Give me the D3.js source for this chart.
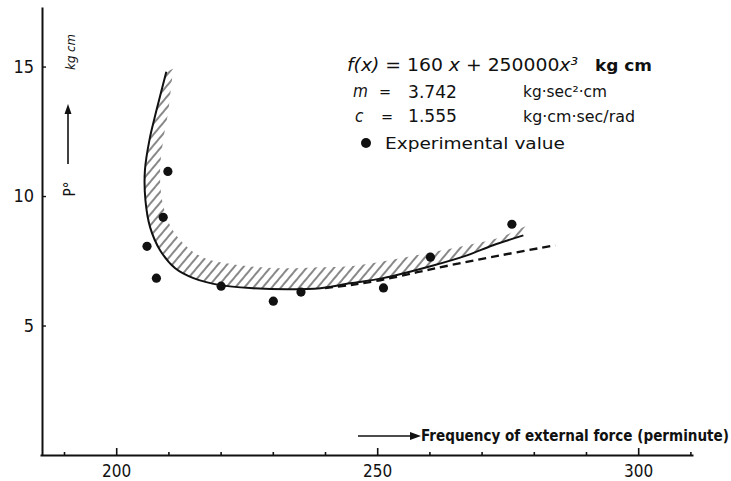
<!DOCTYPE html>
<html>
<head>
<meta charset="utf-8">
<script src="https://cdn.jsdelivr.net/npm/d3@7"></script>
<style>
  html, body { margin: 0; padding: 0; background: #fff; }
  svg { display: block; }
  text { fill: #111; }
</style>
</head>
<body>
<svg id="chart" width="731" height="481"></svg>
<script>
// ---- data ----
const xMajorTicks = [200, 250, 300];
const xMinorTicks = [190, 210, 220, 230, 240, 260, 270, 280, 290, 310];
const yTicks = [5, 10, 15];

// theoretical curve (solid)
const solidX = [209.6, 207.7, 206.4, 205.5, 205.6, 206.5, 208.4, 211.3, 214.8, 219.9, 226.2, 232.8, 239.1, 244.8, 251.1, 260.2, 267.2, 272.2, 278.0];
const solidY = [14.8, 13.3, 12.2, 10.99, 9.83, 8.79, 7.91, 7.21, 6.83, 6.56, 6.44, 6.40, 6.44, 6.63, 6.83, 7.29, 7.71, 8.10, 8.48];

// upper edge of hatched band
const hatchX = [210.9, 210.0, 209.0, 208.4, 208.8, 210.3, 213.2, 217.0, 223.8, 231.4, 239.1, 244.8, 254.4, 267.2, 273.6, 278.4];
const hatchY = [14.92, 13.3, 12.15, 10.99, 9.83, 8.87, 8.10, 7.60, 7.33, 7.21, 7.25, 7.29, 7.60, 8.10, 8.41, 8.83];

// dashed curve
const dashX = [240.0, 244.8, 250.6, 257.7, 264.0, 273.6, 284.1];
const dashY = [6.45, 6.56, 6.75, 7.06, 7.33, 7.71, 8.10];

// experimental values
const expX = [205.9, 207.7, 209.0, 209.9, 220.1, 230.1, 235.4, 251.2, 260.2, 275.8];
const expY = [8.06, 6.83, 9.18, 10.95, 6.52, 5.94, 6.29, 6.45, 7.64, 8.91];

const FONT = "'DejaVu Sans Condensed', 'Liberation Sans Narrow', 'DejaVu Sans', sans-serif";

const svg = d3.select("#chart");

const x = d3.scaleLinear().domain([185.4, 310.5]).range([40, 693]);
const y = d3.scaleLinear().domain([0, 17.3]).range([455, 7]);

const pts = (xs, ys) => xs.map((v, i) => [x(v), y(ys[i])]);

// hatch pattern
const defs = svg.append("defs");
const pat = defs.append("pattern")
  .attr("id", "hatch")
  .attr("patternUnits", "userSpaceOnUse")
  .attr("width", 7).attr("height", 7)
  .attr("patternTransform", "rotate(40)");
pat.append("line")
  .attr("x1", 1).attr("y1", 0).attr("x2", 1).attr("y2", 7)
  .attr("stroke", "#111").attr("stroke-width", 1.0);

// hatched band
const smooth = d3.line().curve(d3.curveCatmullRom.alpha(0.5));
const lowerPath = smooth(pts(solidX, solidY));
const upperPts = pts(hatchX, hatchY).reverse();
const upperPath = smooth(upperPts).replace(/^M/, "L");
svg.append("path")
  .attr("d", lowerPath + upperPath + "Z")
  .attr("fill", "url(#hatch)")
  .attr("stroke", "none");

// solid curve
svg.append("path")
  .attr("d", lowerPath)
  .attr("fill", "none")
  .attr("stroke", "#111")
  .attr("stroke-width", 2);

// dashed curve
svg.append("path")
  .attr("d", smooth(pts(dashX, dashY)))
  .attr("fill", "none")
  .attr("stroke", "#111")
  .attr("stroke-width", 2.4)
  .attr("stroke-dasharray", "8,5");

// experimental points
svg.append("g").selectAll("circle")
  .data(expX.map((v, i) => [v, expY[i]]))
  .join("circle")
  .attr("cx", d => x(d[0]))
  .attr("cy", d => y(d[1]))
  .attr("r", 4.6)
  .attr("fill", "#111");

// x axis
const xAxisG = svg.append("g").attr("transform", `translate(0,${y(0)})`);
xAxisG.call(d3.axisBottom(x).tickValues(xMajorTicks).tickSizeInner(-7).tickSizeOuter(0).tickPadding(10).tickFormat(d3.format("d")));
const xMinorG = svg.append("g").attr("transform", `translate(0,${y(0)})`);
xMinorG.call(d3.axisBottom(x).tickValues(xMinorTicks).tickSizeInner(-3).tickSizeOuter(0).tickFormat(""));
xMinorG.select(".domain").remove();
[xAxisG, xMinorG].forEach(g => {
  g.selectAll(".domain").attr("stroke", "#111").attr("stroke-width", 2.2);
  g.selectAll(".tick line").attr("stroke", "#111").attr("stroke-width", 1.6);
});
xAxisG.selectAll(".tick text")
  .attr("font-family", FONT).attr("font-size", 17).attr("fill", "#111");

// y axis
const yAxisG = svg.append("g").attr("transform", `translate(${x(185.4) + 2},0)`);
yAxisG.call(d3.axisLeft(y).tickValues(yTicks).tickSizeInner(-4).tickSizeOuter(0).tickPadding(8).tickFormat(d3.format("d")));
yAxisG.selectAll(".domain").attr("stroke", "#111").attr("stroke-width", 2);
yAxisG.selectAll(".tick line").attr("stroke", "#111").attr("stroke-width", 1.4);
yAxisG.selectAll(".tick text")
  .attr("font-family", FONT).attr("font-size", 18).attr("fill", "#111");

// y axis label: "kg cm", arrow, "P°"
svg.append("text")
  .attr("transform", "translate(75,52) rotate(-90)")
  .attr("text-anchor", "middle")
  .attr("font-family", FONT).attr("font-style", "italic").attr("font-size", 13)
  .text("kg cm");
svg.append("line")
  .attr("x1", 68).attr("y1", 164).attr("x2", 68).attr("y2", 112)
  .attr("stroke", "#111").attr("stroke-width", 1.6);
svg.append("path")
  .attr("d", "M68,104 L64.5,114 L71.5,114 Z")
  .attr("fill", "#111");
svg.append("text")
  .attr("transform", "translate(75,189) rotate(-90)")
  .attr("text-anchor", "middle")
  .attr("font-family", FONT).attr("font-size", 15)
  .text("P°");

// x axis label with arrow
svg.append("line")
  .attr("x1", 358).attr("y1", 436).attr("x2", 412).attr("y2", 436)
  .attr("stroke", "#111").attr("stroke-width", 1.6);
svg.append("path")
  .attr("d", "M421,436 L410,432 L410,440 Z")
  .attr("fill", "#111");
svg.append("text")
  .attr("x", 421).attr("y", 441)
  .attr("font-family", FONT).attr("font-weight", "bold").attr("font-size", 15)
  .attr("textLength", 308).attr("lengthAdjust", "spacingAndGlyphs")
  .text("Frequency of external force (perminute)");

// legend / annotation block
const leg = svg.append("g").attr("font-family", FONT);
const t1 = leg.append("text").attr("x", 347).attr("y", 71).attr("font-size", 18)
  .attr("textLength", 231).attr("lengthAdjust", "spacingAndGlyphs");
t1.append("tspan").attr("font-style", "italic").text("f(x)");
t1.append("tspan").text(" = 160 ");
t1.append("tspan").attr("font-style", "italic").text("x");
t1.append("tspan").text(" + 250000");
t1.append("tspan").attr("font-style", "italic").text("x³");
leg.append("text").attr("x", 595).attr("y", 71).attr("font-size", 16).attr("font-weight", "bold")
  .attr("textLength", 57).attr("lengthAdjust", "spacingAndGlyphs").text("kg cm");

leg.append("text").attr("x", 353).attr("y", 97).attr("font-size", 17).attr("font-style", "italic").text("m");
leg.append("text").attr("x", 379).attr("y", 97).attr("font-size", 16).text("=");
leg.append("text").attr("x", 408).attr("y", 98).attr("font-size", 17)
  .attr("textLength", 49).attr("lengthAdjust", "spacingAndGlyphs").text("3.742");
leg.append("text").attr("x", 523).attr("y", 97).attr("font-size", 15)
  .attr("textLength", 84).attr("lengthAdjust", "spacingAndGlyphs").text("kg·sec²·cm");

leg.append("text").attr("x", 355).attr("y", 122).attr("font-size", 17).attr("font-style", "italic").text("c");
leg.append("text").attr("x", 381).attr("y", 122).attr("font-size", 16).text("=");
leg.append("text").attr("x", 408).attr("y", 122).attr("font-size", 17)
  .attr("textLength", 49).attr("lengthAdjust", "spacingAndGlyphs").text("1.555");
leg.append("text").attr("x", 523).attr("y", 122).attr("font-size", 15)
  .attr("textLength", 112).attr("lengthAdjust", "spacingAndGlyphs").text("kg·cm·sec/rad");

leg.append("circle").attr("cx", 366).attr("cy", 143).attr("r", 5).attr("fill", "#111");
leg.append("text").attr("x", 385).attr("y", 149).attr("font-size", 16)
  .attr("textLength", 180).attr("lengthAdjust", "spacingAndGlyphs").text("Experimental value");
</script>
</body>
</html>
